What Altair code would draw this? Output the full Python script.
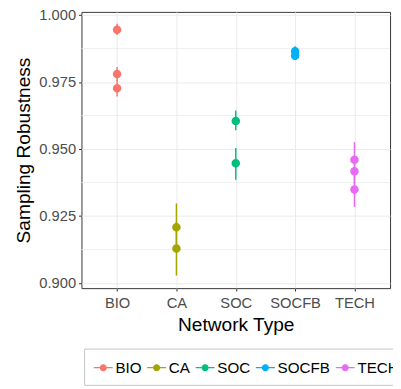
import altair as alt
import pandas as pd

# ---- data ----
networks = ["BIO", "BIO", "BIO", "CA", "CA", "SOC", "SOC", "SOCFB", "SOCFB", "TECH", "TECH", "TECH"]
robustness = [0.9945, 0.9780, 0.9727, 0.9208, 0.9129, 0.9605, 0.9447, 0.9865, 0.9848, 0.9460, 0.9417, 0.9349]
lower = [0.9926, 0.9754, 0.9696, 0.9118, 0.9028, 0.9570, 0.9386, 0.9845, 0.9833, 0.9420, 0.9370, 0.9284]
upper = [0.9968, 0.9806, 0.9758, 0.9297, 0.9230, 0.9644, 0.9504, 0.9884, 0.9862, 0.9526, 0.9470, 0.9410]

categories = ["BIO", "CA", "SOC", "SOCFB", "TECH"]
colors = ["#F8766D", "#A3A500", "#00BF7D", "#00B0F6", "#E76BF3"]
y_ticks = [0.900, 0.925, 0.950, 0.975, 1.000]
minor_grid = [0.9125, 0.9375, 0.9625, 0.9875]

df = pd.DataFrame({"Network": networks, "Robustness": robustness, "lo": lower, "hi": upper})
grid_df = pd.DataFrame({"v": minor_grid})

FONT = "Liberation Sans"
yscale = alt.Scale(domain=[0.8981, 1.0012], nice=False, zero=False)
xscale = alt.Scale(type="point", domain=categories, padding=0.6)
cscale = alt.Scale(domain=categories, range=colors)

sym = "M-1,0L1,0M0.31,0A0.31,0.31,0,1,1,-0.31,0A0.31,0.31,0,1,1,0.31,0Z"
legend = alt.Legend(
    title=None, orient="none", legendX=2.7, legendY=343.7, direction="horizontal",
    columns=5, symbolType=sym, symbolSize=372, symbolStrokeWidth=1.2,
    labelFontSize=15.5, labelColor="black", labelFont=FONT, labelOffset=2,
    columnPadding=2.5, padding=9, strokeColor="#c4c4c4", gridAlign="none",
)

minor = alt.Chart(grid_df).mark_rule(color="#EBEBEB", strokeWidth=0.8).encode(
    y=alt.Y("v:Q", scale=yscale)
)

bars = alt.Chart(df).mark_rule(strokeWidth=1.5).encode(
    x=alt.X("Network:N", scale=xscale),
    y=alt.Y("lo:Q", scale=yscale),
    y2="hi:Q",
    stroke=alt.Stroke("Network:N", scale=cscale, legend=legend),
)

points = alt.Chart(df).mark_point(filled=True, opacity=1, size=45).encode(
    x=alt.X("Network:N", scale=xscale, title="Network Type",
            axis=alt.Axis(labelAngle=0, labelAlign="center", labelBaseline="top",
                          grid=True, gridColor="#EBEBEB", domain=False,
                          tickColor="#333333", tickSize=3, labelFontSize=15,
                          labelColor="#4D4D4D", labelFont=FONT, labelPadding=5,
                          titleFont=FONT, titleFontSize=19.5, titleFontWeight="normal",
                          titleColor="black", titlePadding=5)),
    y=alt.Y("Robustness:Q", scale=yscale, title="Sampling Robustness",
            axis=alt.Axis(values=y_ticks, format=".3f", grid=True, gridColor="#EBEBEB",
                          domain=False, tickColor="#333333", tickSize=3, labelFontSize=15,
                          labelColor="#4D4D4D", labelFont=FONT, labelPadding=3,
                          titleFont=FONT, titleFontSize=19.5, titleFontWeight="normal",
                          titleColor="black", titlePadding=6)),
    fill=alt.Fill("Network:N", scale=cscale, legend=legend),
    stroke=alt.Stroke("Network:N", scale=cscale, legend=legend),
)

chart = alt.layer(minor, bars, points).properties(
    width=315, height=282,
    autosize=alt.AutoSizeParams(type="none"),
    padding={"left": 75, "top": 0, "right": 3, "bottom": 100},
).configure_view(stroke="#333333", strokeWidth=1)

chart.save("out.html", embed_options={"renderer": "svg", "actions": False})
